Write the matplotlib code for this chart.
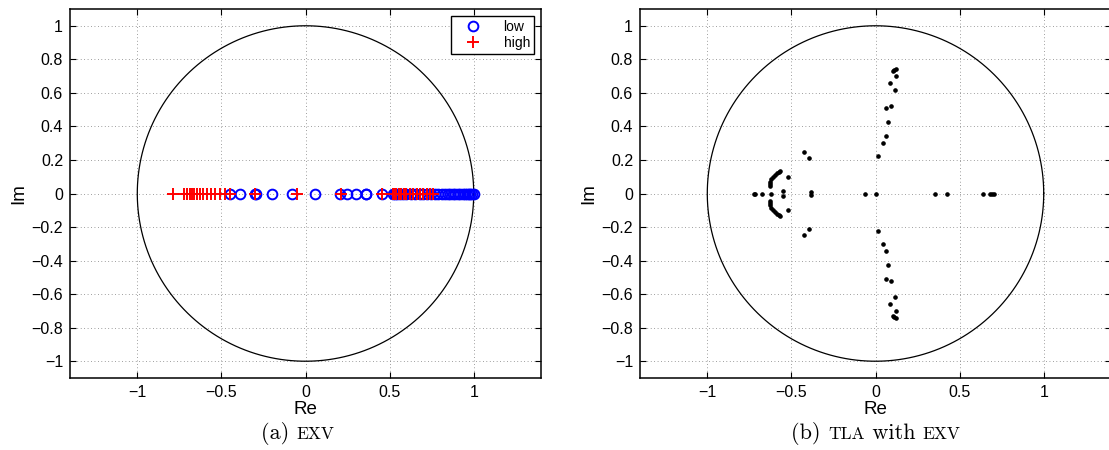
import numpy as np
import matplotlib
matplotlib.use("Agg")
import matplotlib.pyplot as plt

# ---------------- data ----------------
# (a) EXV : eigenvalues on the real axis
low_re = [-0.45, -0.387, -0.30, -0.296, -0.202, -0.08, 0.055, 0.208, 0.248, 0.298, 0.358, 0.362,
          0.456, 0.52, 0.53, 0.545, 0.56, 0.58, 0.60, 0.625, 0.65, 0.68, 0.70, 0.72, 0.745,
          0.77, 0.79, 0.81, 0.83, 0.845, 0.86, 0.875, 0.89, 0.905, 0.92, 0.935, 0.95, 0.96,
          0.97, 0.98, 0.99, 1.0]
low_im = [0.0] * len(low_re)
high_re = [-0.79, -0.724, -0.704, -0.689, -0.675, -0.661, -0.645, -0.629, -0.609, -0.585,
           -0.561, -0.536, -0.510, -0.480, -0.45, -0.298, -0.05, 0.214, 0.456, 0.52, 0.53,
           0.54, 0.555, 0.57, 0.585, 0.60, 0.62, 0.64, 0.66, 0.68, 0.70, 0.72, 0.74, 0.755]
high_im = [0.0] * len(high_re)

# (b) TLA with EXV : complex eigenvalues
tla_re = [-0.423, -0.397, -0.565, -0.575, -0.585, -0.599, -0.609, -0.619, -0.625, -0.629, -0.629,
          -0.522, -0.552, -0.385,
          0.014, 0.044, 0.060, 0.077, 0.060, 0.095, 0.113, 0.085, 0.121, 0.105, 0.109, 0.119,
          -0.423, -0.397, -0.565, -0.575, -0.585, -0.599, -0.609, -0.619, -0.625, -0.629, -0.629,
          -0.522, -0.552, -0.385,
          0.014, 0.044, 0.060, 0.077, 0.060, 0.095, 0.113, 0.085, 0.121, 0.105, 0.109, 0.119,
          -0.724, -0.714, -0.674, -0.619, -0.065, 0.0, 0.351, 0.423, 0.641, 0.68, 0.69, 0.705]
tla_im = [0.246, 0.210, 0.133, 0.130, 0.124, 0.112, 0.100, 0.087, 0.070, 0.057, 0.043,
          0.100, 0.012, 0.008,
          0.226, 0.300, 0.345, 0.425, 0.510, 0.520, 0.620, 0.660, 0.700, 0.730, 0.739, 0.743,
          -0.246, -0.210, -0.133, -0.130, -0.124, -0.112, -0.100, -0.087, -0.070, -0.057, -0.043,
          -0.100, -0.012, -0.008,
          -0.226, -0.300, -0.345, -0.425, -0.510, -0.520, -0.620, -0.660, -0.700, -0.730, -0.739, -0.743,
          0.0, 0.0, 0.0, 0.0, 0.0, 0.0, 0.0, 0.0, 0.0, 0.0, 0.0, 0.0]

x_ticks = [-1, -0.5, 0, 0.5, 1]
x_ticklabels = ["\u22121", "\u22120.5", "0", "0.5", "1"]
y_ticks = [1, 0.8, 0.6, 0.4, 0.2, 0, -0.2, -0.4, -0.6, -0.8, -1]
y_ticklabels = ["1", "0.8", "0.6", "0.4", "0.2", "0", "\u22120.2", "\u22120.4", "\u22120.6", "\u22120.8", "\u22121"]
legend_labels = ["low", "high"]

# ---------------- figure ----------------
plt.rcParams["font.family"] = ["Liberation Sans", "DejaVu Sans"]
W, H = 1109, 450
fig = plt.figure(figsize=(W / 100, H / 100), dpi=100)

ax1 = fig.add_axes([70 / W, 1 - 378 / H, 471 / W, 369 / H])
ax2 = fig.add_axes([640 / W, 1 - 378 / H, 471 / W, 369 / H])

theta = np.linspace(0, 2 * np.pi, 400)


def style(ax):
    ax.plot(np.cos(theta), np.sin(theta), color="black", lw=0.9, zorder=2)
    ax.set_xlim(-1.4, 1.4)
    ax.set_ylim(-1.1, 1.1)
    ax.set_xticks(x_ticks)
    ax.set_xticklabels(x_ticklabels)
    ax.set_yticks(y_ticks)
    ax.set_yticklabels(y_ticklabels)
    ax.tick_params(direction="in", length=4, width=0.8, top=True, right=True,
                   labelsize=11.5, pad=5, colors="black")
    ax.grid(True, color="0.4", linestyle=(0, (1, 3.5)), linewidth=0.55)
    ax.set_axisbelow(True)
    for s in ax.spines.values():
        s.set_linewidth(1.1)
    ax.set_xlabel("Re", fontsize=13.5, labelpad=1)
    ax.set_ylabel("Im", fontsize=13.5, labelpad=3)


style(ax1)
style(ax2)

ax1.plot(low_re, low_im, linestyle="none", marker="o", mfc="none", mec="#0000ff",
         mew=1.4, ms=7, label=legend_labels[0], zorder=3)
ax1.plot(high_re, high_im, linestyle="none", marker="+", color="#ff0000",
         mew=1.4, ms=8, label=legend_labels[1], zorder=4)
leg = ax1.legend(loc="upper right", fontsize=10, frameon=True, fancybox=False,
                 edgecolor="black", framealpha=1, borderaxespad=0.5,
                 handlelength=2.6, handletextpad=0.9, borderpad=0.3, labelspacing=0.15)
leg.get_frame().set_linewidth(1.0)

ax2.plot(tla_re, tla_im, linestyle="none", marker="o", color="black", ms=2.3, zorder=3)

# ---------------- captions (small caps emulation) ----------------
fig.canvas.draw()
renderer = fig.canvas.get_renderer()


def caption(xc, yc, pieces):
    texts = []
    for s, sz in pieces:
        t = fig.text(0, yc / H, s, fontsize=sz, family=["cmr10", "DejaVu Serif"],
                     va="baseline", ha="left")
        texts.append(t)
    widths = [t.get_window_extent(renderer).width for t in texts]
    total = sum(widths)
    x = xc - total / 2
    for t, w in zip(texts, widths):
        t.set_x(x / W)
        x += w


caption(298, H - 439, [("(a) ", 16), ("EXV", 12.5)])
caption(876, H - 439, [("(b) ", 16), ("TLA", 12.5), (" with ", 16), ("EXV", 12.5)])

fig.savefig("out.png", dpi=100)
